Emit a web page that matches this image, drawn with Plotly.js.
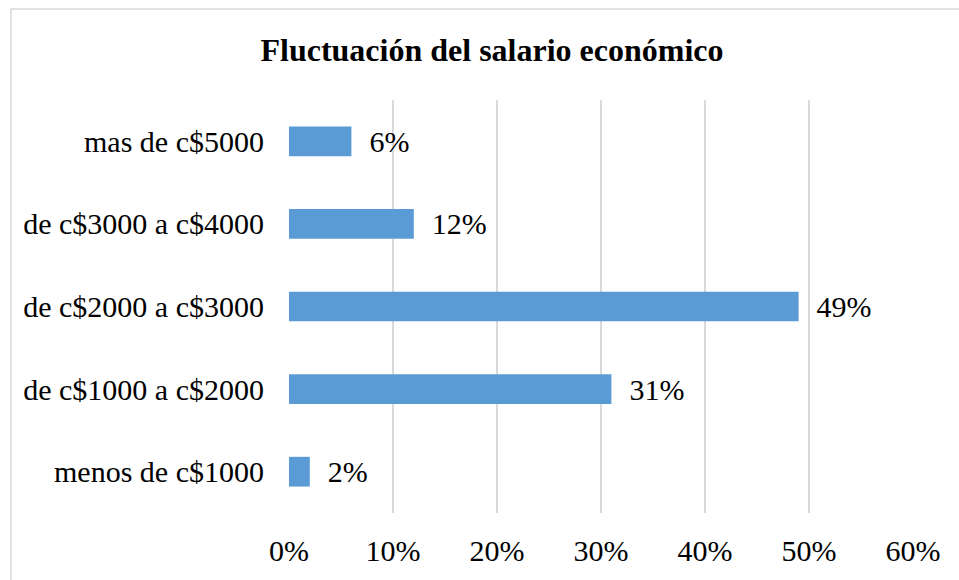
<!DOCTYPE html>
<html>
<head>
<meta charset="utf-8">
<script src="https://cdn.plot.ly/plotly-3.0.1.min.js"></script>
<style>html,body{margin:0;padding:0;background:#fff;}#chart{width:959px;height:580px;}</style>
</head>
<body>
<div id="chart"></div>
<script>
var categories = ["menos de c$1000", "de c$1000 a c$2000", "de c$2000 a c$3000", "de c$3000 a c$4000", "mas de c$5000"];
var values = [0.02, 0.31, 0.49, 0.12, 0.06];
var xTickVals = [0, 0.1, 0.2, 0.3, 0.4, 0.5, 0.6];
var xTickText = ["0%", "10%", "20%", "30%", "40%", "50%", "60%"];
var chartTitle = "Fluctuación del salario económico";

var serif = "Liberation Serif, Times New Roman, serif";
var L = 289, R = 46, T = 100, B = 67, W = 959, H = 580;
var pw = W - L - R, ph = H - T - B;
function px(x){ return (x - L) / pw; }
function py(y){ return (H - B - y) / ph; }

var trace = {
  type: "bar",
  orientation: "h",
  y: categories,
  x: values,
  marker: {color: "#5B9BD5"},
  texttemplate: "\u00a0\u00a0%{x:.0%}",
  textposition: "outside",
  constraintext: "none",
  cliponaxis: false,
  textfont: {family: serif, size: 30, color: "#000"},
  hoverinfo: "none"
};

var layout = {
  width: W, height: H,
  margin: {l: L, r: R, t: T, b: B, pad: 0},
  paper_bgcolor: "#fff", plot_bgcolor: "#fff",
  showlegend: false,
  bargap: 0.64,
  title: {
    text: "<b>" + chartTitle + "</b>",
    font: {family: serif, size: 32, color: "#000"},
    xref: "container", x: 492 / W, xanchor: "center",
    yref: "container", y: 1 - 50 / H, yanchor: "middle"
  },
  xaxis: {
    range: [0, 0.6],
    tickvals: xTickVals,
    ticktext: xTickText,
    showgrid: true, gridcolor: "#d9d9d9", gridwidth: 1.5,
    zeroline: false, showline: false, ticks: "",
    tickfont: {family: serif, size: 30, color: "#000"},
    ticklabelstandoff: 17,
    fixedrange: true
  },
  yaxis: {
    showgrid: false, zeroline: false, showline: false, ticks: "",
    tickfont: {family: serif, size: 30, color: "#000"},
    ticklabelstandoff: 24,
    fixedrange: true
  },
  shapes: [{
    type: "rect", xref: "paper", yref: "paper",
    x0: px(11), x1: px(975), y0: py(600), y1: py(9),
    line: {color: "#d9d9d9", width: 1.5}, fillcolor: "rgba(0,0,0,0)", layer: "above"
  }]
};

Plotly.newPlot("chart", [trace], layout, {staticPlot: true, displayModeBar: false});
</script>
</body>
</html>
